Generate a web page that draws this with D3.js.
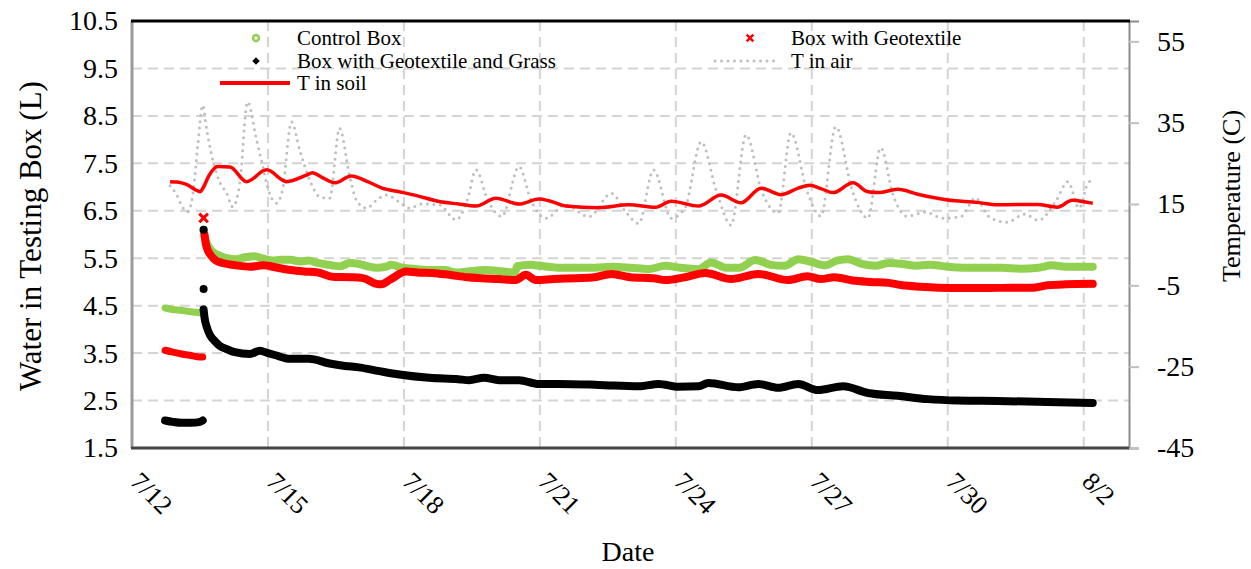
<!DOCTYPE html>
<html>
<head>
<meta charset="utf-8">
<script src="https://cdn.jsdelivr.net/npm/d3@7"></script>
<style>
  body { margin: 0; background: #fff; overflow: hidden; }
  svg { display: block; }
  text { font-family: "Liberation Serif", "Times New Roman", serif; fill: #000; }
</style>
</head>
<body>
<svg id="chart"></svg>
<script>
// day values are July days (32 = 8/1)
const xTicks = [12, 15, 18, 21, 24, 27, 30, 33];
const leftTicks = [1.5, 2.5, 3.5, 4.5, 5.5, 6.5, 7.5, 8.5, 9.5, 10.5];
const rightTicks = [-45, -25, -5, 15, 35, 55];

const controlPre = [[12.73,4.45],[12.9,4.42],[13.1,4.4],[13.3,4.37],[13.5,4.35],[13.56,4.34]];
const controlBox = [[13.58,6.1],[13.6,5.95],[13.65,5.82],[13.72,5.7],[13.8,5.62],[13.95,5.55],[14.1,5.5],[14.3,5.48],[14.5,5.52],[14.7,5.54],[14.9,5.49],[15.1,5.45],[15.3,5.47],[15.5,5.47],[15.7,5.43],[15.9,5.45],[16.1,5.4],[16.4,5.35],[16.6,5.33],[16.8,5.4],[17.0,5.38],[17.2,5.33],[17.4,5.3],[17.6,5.32],[17.72,5.36],[17.96,5.3],[18.3,5.27],[18.6,5.25],[18.9,5.25],[19.15,5.2],[19.4,5.22],[19.8,5.25],[20.2,5.22],[20.45,5.2],[20.5,5.33],[20.8,5.36],[21.0,5.34],[21.4,5.3],[21.8,5.3],[22.2,5.3],[22.6,5.32],[23.0,5.3],[23.4,5.27],[23.77,5.34],[24.1,5.3],[24.5,5.27],[24.78,5.41],[25.1,5.3],[25.4,5.3],[25.75,5.46],[26.1,5.36],[26.4,5.34],[26.7,5.48],[27.0,5.42],[27.3,5.35],[27.55,5.45],[27.8,5.48],[28.1,5.38],[28.4,5.34],[28.7,5.4],[29.0,5.38],[29.3,5.34],[29.6,5.36],[30.0,5.32],[30.4,5.3],[30.8,5.3],[31.2,5.3],[31.6,5.28],[32.0,5.3],[32.3,5.35],[32.6,5.32],[33.0,5.32],[33.2,5.32]];

const geoPre = [[12.73,3.56],[12.9,3.52],[13.1,3.48],[13.3,3.45],[13.5,3.42],[13.56,3.42]];
const geoSpike = [[13.58,6.35]];
const geoBox = [[13.6,6.0],[13.63,5.8],[13.68,5.65],[13.75,5.55],[13.85,5.45],[14.0,5.4],[14.3,5.35],[14.6,5.32],[14.9,5.35],[15.2,5.3],[15.5,5.25],[15.8,5.22],[16.1,5.2],[16.42,5.11],[16.8,5.1],[17.1,5.08],[17.39,4.96],[17.5,4.95],[17.7,5.05],[18.05,5.22],[18.3,5.2],[18.62,5.19],[19.0,5.15],[19.4,5.1],[19.7,5.08],[20.1,5.06],[20.47,5.04],[20.69,5.15],[20.91,5.04],[21.3,5.06],[21.8,5.08],[22.2,5.1],[22.58,5.17],[23.0,5.1],[23.5,5.08],[23.77,5.04],[24.2,5.1],[24.65,5.19],[25.22,5.06],[25.82,5.17],[26.48,5.04],[26.9,5.12],[27.2,5.06],[27.5,5.1],[27.9,5.03],[28.3,5.0],[28.7,4.98],[29.0,4.93],[29.4,4.9],[29.8,4.88],[30.3,4.87],[30.8,4.87],[31.4,4.88],[31.9,4.88],[32.2,4.93],[32.6,4.95],[33.2,4.96]];

const grassPre = [[12.73,2.08],[12.9,2.05],[13.1,2.03],[13.3,2.03],[13.5,2.05],[13.56,2.08]];
const grassSpike = [[13.58,6.1],[13.58,4.85]];
const grassBox = [[13.58,4.42],[13.6,4.25],[13.65,4.05],[13.72,3.88],[13.83,3.75],[13.94,3.65],[14.1,3.58],[14.27,3.52],[14.6,3.48],[14.82,3.55],[15.0,3.5],[15.15,3.46],[15.48,3.38],[15.9,3.38],[16.36,3.28],[16.7,3.23],[17.0,3.2],[17.46,3.12],[17.9,3.05],[18.56,2.98],[19.2,2.95],[19.44,2.93],[19.77,2.98],[20.1,2.93],[20.54,2.93],[20.98,2.85],[21.42,2.85],[22.3,2.83],[23.18,2.8],[23.62,2.85],[24.06,2.79],[24.5,2.8],[24.72,2.87],[25.38,2.78],[25.82,2.85],[26.26,2.77],[26.7,2.85],[27.14,2.72],[27.69,2.8],[28.24,2.66],[28.9,2.6],[29.56,2.53],[30.22,2.5],[31.1,2.49],[32.2,2.47],[33.2,2.45]];

const tSoil = [[12.84,20.5],[13.0,20.4],[13.2,19.8],[13.45,18.2],[13.5,18.0],[13.56,18.8],[13.7,22.0],[13.89,24.2],[14.16,24.1],[14.53,20.5],[14.97,23.4],[15.41,20.5],[15.85,22.1],[15.98,22.7],[16.2,21.5],[16.47,20.2],[16.84,21.9],[17.2,20.5],[17.52,18.9],[17.9,18.0],[18.3,17.0],[18.78,15.6],[19.2,15.0],[19.59,14.5],[20.03,16.4],[20.54,15.0],[20.98,16.2],[21.2,15.8],[21.57,14.5],[22.3,14.1],[22.96,14.8],[23.55,14.2],[23.9,15.7],[24.5,14.5],[25.0,17.2],[25.44,15.3],[25.88,18.9],[26.32,17.3],[26.7,18.9],[26.96,19.6],[27.2,18.8],[27.47,17.8],[27.91,20.2],[28.24,18.0],[28.46,17.8],[28.9,18.6],[29.34,17.4],[30.0,16.0],[30.66,15.4],[31.1,14.8],[31.98,14.9],[32.42,14.2],[32.75,15.9],[33.08,15.4],[33.2,15.2]];

const tAir = [[12.84,19.5],[12.99,17.2],[13.1,14.5],[13.23,13.1],[13.35,18],[13.45,29.1],[13.56,39.3],[13.65,33.2],[13.8,25],[13.95,20],[14.09,17.7],[14.22,14.3],[14.38,20.2],[14.55,40.1],[14.75,30.7],[14.88,24.6],[14.99,19.2],[15.19,15.2],[15.32,18.4],[15.52,35.2],[15.7,28.3],[15.92,20.9],[16.14,16.8],[16.36,16.4],[16.58,33.6],[16.8,22],[16.95,16],[17.17,14],[17.4,16],[17.61,17.2],[17.9,15.5],[18.12,14],[18.4,15],[18.78,14.8],[19.15,11.1],[19.4,16],[19.59,23.4],[19.85,16],[20.16,11.9],[20.54,24.2],[20.8,16],[21.13,11.5],[21.57,14.8],[22.08,11.9],[22.58,17.6],[22.9,13],[23.18,10.2],[23.51,23.4],[23.9,11.5],[24.2,14],[24.56,30.3],[24.9,18],[25.22,9.8],[25.55,32],[25.9,18],[26.26,12.8],[26.54,32.5],[26.9,18],[27.2,12],[27.53,34],[27.9,18],[28.24,11.5],[28.52,28.8],[28.8,17],[29.1,12],[29.5,13],[29.9,11.5],[30.3,12],[30.61,16.5],[30.9,12],[31.3,10.5],[31.7,12.5],[32.0,11],[32.4,16],[32.65,20.5],[32.9,14],[33.08,19.8],[33.2,21]];

const width = 1251, height = 569;
const margin = { top: 21, left: 132, right: 122, bottom: 121 };
const innerWidth = width - margin.left - margin.right;
const innerHeight = height - margin.top - margin.bottom;

const svg = d3.select("#chart").attr("width", width).attr("height", height);

const xScale = d3.scaleLinear().domain([12, 34]).range([0, innerWidth]);
const yLeft = d3.scaleLinear().domain([1.5, 10.5]).range([innerHeight, 0]);
const yRight = d3.scaleLinear().domain([-45, 60]).range([innerHeight, 0]);

const green = "#92d050", red = "#ff0000", gray = "#bfbfbf";

const g = svg.append("g").attr("transform", `translate(${margin.left},${margin.top})`);

// grid
g.append("g").selectAll("line").data(leftTicks.slice(1, -1)).join("line")
  .attr("x1", 0).attr("x2", innerWidth)
  .attr("y1", d => yLeft(d)).attr("y2", d => yLeft(d))
  .attr("stroke", "#d4d4d4").attr("stroke-width", 2).attr("stroke-dasharray", "10 6");
g.append("g").selectAll("line").data(xTicks.slice(1)).join("line")
  .attr("x1", d => xScale(d)).attr("x2", d => xScale(d))
  .attr("y1", 0).attr("y2", innerHeight)
  .attr("stroke", "#d4d4d4").attr("stroke-width", 2).attr("stroke-dasharray", "10 6");

// left axis
const yAxisL = d3.axisLeft(yLeft).tickValues(leftTicks).tickFormat(d3.format(".1f")).tickSize(0).tickPadding(14);
const yAxisLG = g.append("g").call(yAxisL);
yAxisLG.select(".domain").remove();
yAxisLG.selectAll("text").attr("font-size", 28).attr("font-family", "Liberation Serif");

// right axis (plain hyphen for negatives, like the original)
const yAxisR = d3.axisRight(yRight).tickValues(rightTicks).tickFormat(d => String(d)).tickSize(10).tickPadding(18);
const yAxisRG = g.append("g").attr("transform", `translate(${innerWidth},0)`).call(yAxisR);
yAxisRG.select(".domain").attr("stroke", "#8c8c8c").attr("stroke-width", 2);
yAxisRG.selectAll(".tick line").attr("stroke", "#bfbfbf").attr("stroke-width", 2);
yAxisRG.selectAll("text").attr("font-size", 28).attr("font-family", "Liberation Serif");

// x axis labels
const fmtDay = (d) => (d <= 31 ? `7/${d}` : `8/${d - 31}`);
const xAxisG = g.append("g").attr("transform", `translate(0,${innerHeight})`);
xAxisG.selectAll("text").data(xTicks).join("text")
  .attr("transform", d => `translate(${xScale(d) - 3},${35}) rotate(45)`)
  .attr("font-size", 26)
  .text(fmtDay);

// plot borders
g.append("line").attr("x1", 0).attr("x2", 0).attr("y1", 0).attr("y2", innerHeight)
  .attr("stroke", "#9a9a9a").attr("stroke-width", 3);
g.append("line").attr("x1", -1).attr("x2", innerWidth).attr("y1", innerHeight).attr("y2", innerHeight)
  .attr("stroke", "#444").attr("stroke-width", 3);
g.append("line").attr("x1", -1).attr("x2", innerWidth + 1).attr("y1", 0).attr("y2", 0)
  .attr("stroke", "#000").attr("stroke-width", 3);

// series
const lineL = d3.line().x(d => xScale(d[0])).y(d => yLeft(d[1])).curve(d3.curveMonotoneX);
const lineR = d3.line().x(d => xScale(d[0])).y(d => yRight(d[1])).curve(d3.curveMonotoneX);

g.append("path").attr("d", lineR(tAir)).attr("fill", "none")
  .attr("stroke", gray).attr("stroke-width", 3).attr("stroke-linecap", "round")
  .attr("stroke-dasharray", "0 6.5");

const band = (data, color, w) =>
  g.append("path").attr("d", lineL(data)).attr("fill", "none")
    .attr("stroke", color).attr("stroke-width", w)
    .attr("stroke-linecap", "round").attr("stroke-linejoin", "round");

band(controlPre, green, 7);
band(controlBox, green, 8);
band(geoPre, red, 7);
band(geoBox, red, 8);
band(grassPre, "#000", 8);
band(grassBox, "#000", 8);

// isolated readings at the refill
g.append("g").selectAll("circle").data(grassSpike).join("circle")
  .attr("cx", d => xScale(d[0])).attr("cy", d => yLeft(d[1])).attr("r", 4)
  .attr("fill", "#000");
const cross = d3.symbol().type(d3.symbolX).size(50);
g.append("g").selectAll("path").data(geoSpike).join("path")
  .attr("transform", d => `translate(${xScale(d[0])},${yLeft(d[1])})`)
  .attr("d", cross).attr("stroke", red).attr("stroke-width", 3);

g.append("path").attr("d", lineR(tSoil)).attr("fill", "none")
  .attr("stroke", red).attr("stroke-width", 3.5).attr("stroke-linejoin", "round");

// legend
const legend = svg.append("g").attr("font-size", 21);
const legendRows = [
  { label: "Control Box", x: 256, y: 38, tx: 297, kind: "circle" },
  { label: "Box with Geotextile", x: 750, y: 38, tx: 791, kind: "cross" },
  { label: "Box with Geotextile and Grass", x: 256, y: 61, tx: 297, kind: "diamond" },
  { label: "T in air", x: 746, y: 61, tx: 791, kind: "dots" },
  { label: "T in soil", x: 255, y: 83, tx: 297, kind: "line" },
];
legendRows.forEach((r) => {
  if (r.kind === "circle") {
    legend.append("circle").attr("cx", r.x).attr("cy", r.y).attr("r", 3)
      .attr("fill", "#fff").attr("stroke", green).attr("stroke-width", 2.5);
  } else if (r.kind === "cross") {
    legend.append("path").attr("transform", `translate(${r.x},${r.y})`)
      .attr("d", d3.symbol().type(d3.symbolX).size(30)).attr("stroke", red).attr("stroke-width", 2.5);
  } else if (r.kind === "diamond") {
    legend.append("path")
      .attr("d", d3.symbol().type(d3.symbolSquare).size(28)).attr("fill", "#000")
      .attr("transform", `translate(${r.x},${r.y}) rotate(45)`);
  } else if (r.kind === "dots") {
    legend.append("line").attr("x1", r.x - 31).attr("x2", r.x + 33).attr("y1", r.y).attr("y2", r.y)
      .attr("stroke", gray).attr("stroke-width", 3).attr("stroke-linecap", "round").attr("stroke-dasharray", "0 6.5");
  } else {
    legend.append("line").attr("x1", r.x - 35).attr("x2", r.x + 35).attr("y1", r.y).attr("y2", r.y)
      .attr("stroke", red).attr("stroke-width", 4);
  }
  legend.append("text").attr("x", r.tx).attr("y", r.y).attr("dy", "0.35em").text(r.label);
});

// axis titles
svg.append("text").attr("x", margin.left + 496).attr("y", 561)
  .attr("text-anchor", "middle").attr("font-size", 28).text("Date");
svg.append("text").attr("transform", `translate(41,${236}) rotate(-90)`)
  .attr("text-anchor", "middle").attr("font-size", 31).text("Water in Testing Box (L)");
svg.append("text").attr("transform", `translate(1240,${196}) rotate(-90)`)
  .attr("text-anchor", "middle").attr("font-size", 26).text("Temperature (C)");
</script>
</body>
</html>
